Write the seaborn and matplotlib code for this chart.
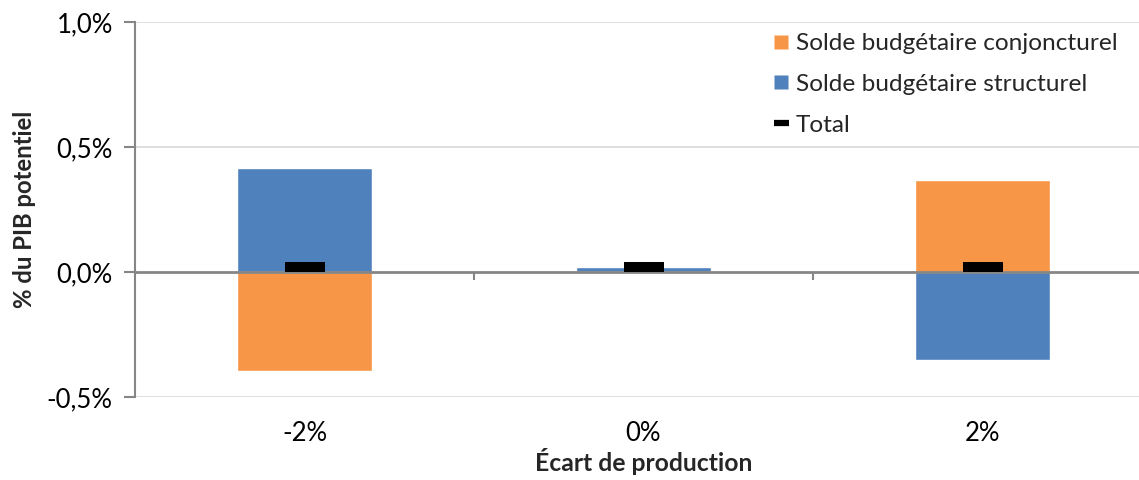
import numpy as np
import pandas as pd
import matplotlib
matplotlib.use("Agg")
import matplotlib.pyplot as plt
from matplotlib.lines import Line2D
import seaborn as sns

# Output gap scenarios and budget balance components (% of potential GDP)
categories = ["-2%", "0%", "2%"]
solde_conjoncturel = [-0.395, 0.0, 0.37]
solde_structurel = [0.415, 0.02, -0.35]
total = [0.02, 0.02, 0.02]

y_ticks = [-0.5, 0.0, 0.5, 1.0]
y_tick_labels = ["-0,5%", "0,0%", "0,5%", "1,0%"]

ORANGE = "#F79646"
BLUE = "#4F81BD"
GRAY = "#868686"
GRID = "#D9D9D9"

sns.set_theme(style="white")
plt.rcParams["font.family"] = ["Lato", "DejaVu Sans"]

df = pd.DataFrame({
    "cat": categories,
    "conj": solde_conjoncturel,
    "struct": solde_structurel,
    "total": total,
})

fig = plt.figure(figsize=(11.39, 4.80), dpi=100)
ax = fig.add_axes([135 / 1139, 83 / 480, 1017 / 1139, 375 / 480])

for y in y_ticks:
    if y != 0:
        ax.axhline(y, color=GRID, lw=1.2, zorder=0)

# components have opposite signs, so both bars start from zero
sns.barplot(data=df, x="cat", y="struct", order=categories, color=BLUE,
            width=0.4, saturation=1, ax=ax, zorder=2)
sns.barplot(data=df, x="cat", y="conj", order=categories, color=ORANGE,
            width=0.4, saturation=1, ax=ax, zorder=2)

dash = [(-2, -0.5), (2, -0.5), (2, 0.5), (-2, 0.5), (-2, -0.5)]
sns.scatterplot(data=df, x="cat", y="total", marker=dash, s=28.8 ** 2,
                color="black", edgecolor="none", ax=ax, zorder=4)

ax.set_xlim(-0.5, 2.5)
ax.set_ylim(-0.5, 1.0)

ax.set_yticks(y_ticks)
ax.set_yticklabels(y_tick_labels)
ax.tick_params(axis="y", direction="out", length=8, width=1.5, color=GRAY,
               labelsize=18.5, pad=8, labelcolor="#000000", left=True)

ax.set_xticks(range(len(categories)))
ax.set_xticklabels(categories)
ax.tick_params(axis="x", length=0, labelsize=18.5, pad=17, labelcolor="#000000")

for side in ["top", "right", "bottom"]:
    ax.spines[side].set_visible(False)
ax.spines["left"].set_color(GRAY)
ax.spines["left"].set_linewidth(1.5)

# horizontal axis line at zero with category separators
zero_frac = (0 - (-0.5)) / (1.0 - (-0.5))
sec = ax.secondary_xaxis(zero_frac)
sec.set_xticks([0.5, 1.5])
sec.set_xticklabels([])
sec.tick_params(axis="x", direction="out", length=6, width=1.5, color=GRAY)
sec.spines["bottom"].set_color(GRAY)
sec.spines["bottom"].set_linewidth(2)
sec.set_zorder(3)

ax.set_xlabel("Écart de production", fontsize=17.8, fontweight="bold", labelpad=2)
ax.set_ylabel("% du PIB potentiel", fontsize=17.2, fontweight="bold", labelpad=8)

handles = [
    Line2D([0], [0], marker="s", linestyle="none", markersize=10,
           markerfacecolor=ORANGE, markeredgecolor="none"),
    Line2D([0], [0], marker="s", linestyle="none", markersize=10,
           markerfacecolor=BLUE, markeredgecolor="none"),
    Line2D([0], [0], color="black", lw=4.5, solid_capstyle="butt"),
]
labels = ["Solde budgétaire conjoncturel", "Solde budgétaire structurel", "Total"]
fig.legend(handles, labels, loc="upper left",
           bbox_to_anchor=(757 / 1139, 1 - 16 / 480),
           frameon=False, fontsize=17.6, handlelength=0.6, handletextpad=0.3,
           labelspacing=0.8, borderpad=0.2)

fig.savefig("out.png", dpi=100)
